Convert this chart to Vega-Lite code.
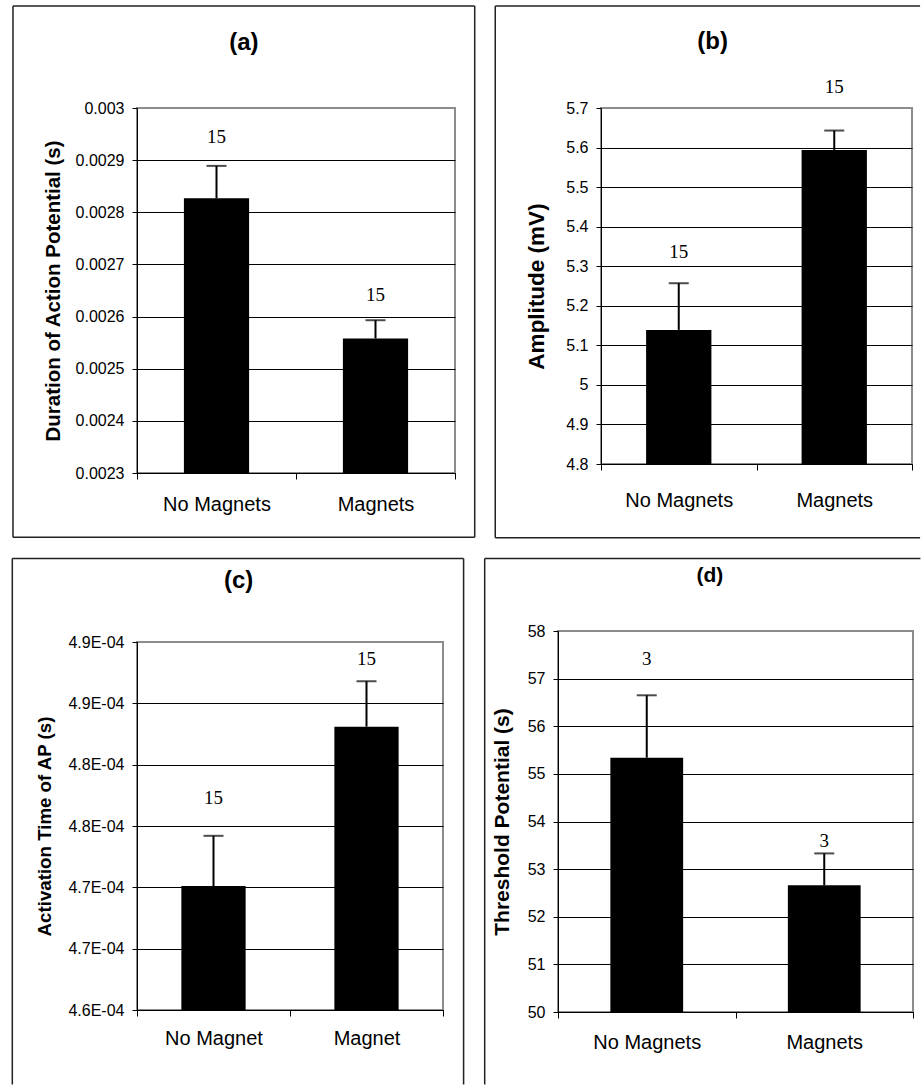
{
  "$schema": "https://vega.github.io/schema/vega-lite/v6.json",
  "background": "white",
  "padding": {"left": 10, "top": 4, "right": 0, "bottom": 0},
  "autosize": {"type": "pad"},
  "columns": 2,
  "align": "none",
  "bounds": "full",
  "spacing": {"row": 16, "column": 5},
  "config": {
    "font": "Liberation Sans",
    "view": {"stroke": "#8c8c8c", "strokeWidth": 2},
    "axis": {
      "labelFont": "Liberation Sans", "titleFont": "Liberation Sans",
      "labelColor": "black", "titleColor": "black", "titleFontWeight": "bold",
      "domainColor": "black", "domainWidth": 1, "tickColor": "black", "tickWidth": 1,
      "gridColor": "black", "gridWidth": 1, "labelOverlap": false
    },
    "axisY": {"labelFontSize": 16, "labelPadding": 8, "tickSize": 5, "grid": true},
    "axisX": {"labelFontSize": 20, "labelAngle": 0, "tickSize": 6, "grid": false, "tickBand": "extent", "title": null}
  },
  "datasets": {
    "bars": [
      {"panel": "a", "cond": "No Magnets", "mean": 0.002827, "upper": 0.002889, "n": 15},
      {"panel": "a", "cond": "Magnets", "mean": 0.002558, "upper": 0.002593, "n": 15},
      {"panel": "b", "cond": "No Magnets", "mean": 5.139, "upper": 5.257, "n": 15},
      {"panel": "b", "cond": "Magnets", "mean": 5.594, "upper": 5.643, "n": 15},
      {"panel": "c", "cond": "No Magnet", "mean": 0.0004701, "upper": 0.0004742, "n": 15},
      {"panel": "c", "cond": "Magnet", "mean": 0.0004831, "upper": 0.0004868, "n": 15},
      {"panel": "d", "cond": "No Magnets", "mean": 55.34, "upper": 56.65, "n": 3},
      {"panel": "d", "cond": "Magnets", "mean": 52.66, "upper": 53.33, "n": 3}
    ]
  },
  "concat": [
    {
      "width": 318, "height": 365,
      "resolve": {"scale": {"x": "independent", "y": "independent"}},
      "layer": [
        {
          "data": {"name": "bars"},
          "transform": [{"filter": "datum.panel === 'a'"}],
          "encoding": {"x": {"field": "cond", "type": "nominal", "sort": ["No Magnets", "Magnets"], "scale": {"paddingInner": 0, "paddingOuter": 0}, "axis": {"labelPadding": 15, "labelFontSize": 20}}},
          "layer": [
            {"mark": {"type": "bar", "color": "black", "width": {"band": 0.41}},
             "encoding": {"y": {"field": "mean", "type": "quantitative", "scale": {"domain": [0.0023, 0.003], "nice": false, "zero": false, "clamp": true},
               "axis": {"title": "Duration of Action Potential (s)", "titleFontSize": 20.5, "titlePadding": 12, "format": "~g", "labelFontSize": 16, "tickCount": 30,
                 "gridOpacity": {"condition": {"test": "datum.value >= 0.003", "value": 0}, "value": 1},
                 "values": [0.0023, 0.0024, 0.0025, 0.0026, 0.0027, 0.0028, 0.0029, 0.003]}}}},
            {"mark": {"type": "rule", "color": "black", "strokeWidth": 2},
             "encoding": {"y": {"field": "mean", "type": "quantitative", "scale": {"domain": [0.0023, 0.003], "nice": false, "zero": false, "clamp": true}}, "y2": {"field": "upper"}}},
            {"mark": {"type": "tick", "color": "black", "thickness": 2, "size": 20},
             "encoding": {"y": {"field": "upper", "type": "quantitative", "scale": {"domain": [0.0023, 0.003], "nice": false, "zero": false, "clamp": true}}}},
            {"transform": [{"filter": "datum.cond === 'No Magnets'"}],
             "mark": {"type": "text", "font": "Liberation Serif", "fontSize": 19, "baseline": "middle", "dy": -29},
             "encoding": {"y": {"field": "upper", "type": "quantitative", "scale": {"domain": [0.0023, 0.003], "nice": false, "zero": false, "clamp": true}}, "text": {"field": "n"}}},
            {"transform": [{"filter": "datum.cond === 'Magnets'"}],
             "mark": {"type": "text", "font": "Liberation Serif", "fontSize": 19, "baseline": "middle", "dy": -25},
             "encoding": {"y": {"field": "upper", "type": "quantitative", "scale": {"domain": [0.0023, 0.003], "nice": false, "zero": false, "clamp": true}}, "text": {"field": "n"}}}
          ]
        },
        {"data": {"values": [{}]}, "mark": {"type": "text", "fontSize": 24, "fontWeight": "bold", "baseline": "middle"},
         "encoding": {"x": {"datum": 0.336, "type": "quantitative", "scale": {"domain": [0, 1]}, "axis": null},
                      "y": {"datum": 1.178, "type": "quantitative", "scale": {"domain": [0, 1]}, "axis": null},
                      "text": {"value": "(a)"}}},
        {"data": {"values": [{}]}, "mark": {"type": "rule", "color": "#222", "strokeWidth": 1.5},
         "encoding": {"x": {"datum": -0.39, "type": "quantitative", "scale": {"domain": [0, 1]}, "axis": null}, "x2": {"datum": 1.062},
                      "y": {"datum": 1.2795, "type": "quantitative", "scale": {"domain": [0, 1]}, "axis": null}}},
        {"data": {"values": [{}]}, "mark": {"type": "rule", "color": "#222", "strokeWidth": 1.5},
         "encoding": {"x": {"datum": -0.39, "type": "quantitative", "scale": {"domain": [0, 1]}, "axis": null}, "x2": {"datum": 1.062},
                      "y": {"datum": -0.176, "type": "quantitative", "scale": {"domain": [0, 1]}, "axis": null}}},
        {"data": {"values": [{}]}, "mark": {"type": "rule", "color": "#222", "strokeWidth": 1.5},
         "encoding": {"x": {"datum": -0.39, "type": "quantitative", "scale": {"domain": [0, 1]}, "axis": null},
                      "y": {"datum": -0.176, "type": "quantitative", "scale": {"domain": [0, 1]}, "axis": null}, "y2": {"datum": 1.2795}}},
        {"data": {"values": [{}]}, "mark": {"type": "rule", "color": "#222", "strokeWidth": 1.5},
         "encoding": {"x": {"datum": 1.062, "type": "quantitative", "scale": {"domain": [0, 1]}, "axis": null},
                      "y": {"datum": -0.176, "type": "quantitative", "scale": {"domain": [0, 1]}, "axis": null}, "y2": {"datum": 1.2795}}}
      ]
    },
    {
      "width": 311, "height": 356,
      "resolve": {"scale": {"x": "independent", "y": "independent"}},
      "layer": [
        {
          "data": {"name": "bars"},
          "transform": [{"filter": "datum.panel === 'b'"}],
          "encoding": {"x": {"field": "cond", "type": "nominal", "sort": ["No Magnets", "Magnets"], "scale": {"paddingInner": 0, "paddingOuter": 0}, "axis": {"labelPadding": 20, "labelFontSize": 20}}},
          "layer": [
            {"mark": {"type": "bar", "color": "black", "width": {"band": 0.42}},
             "encoding": {"y": {"field": "mean", "type": "quantitative", "scale": {"domain": [4.8, 5.7], "nice": false, "zero": false, "clamp": true},
               "axis": {"title": "Amplitude (mV)", "titleFontSize": 22.5, "titlePadding": 17, "format": "~g", "labelFontSize": 16, "tickCount": 30,
                 "gridOpacity": {"condition": {"test": "datum.value >= 5.7", "value": 0}, "value": 1},
                 "values": [4.8, 4.9, 5, 5.1, 5.2, 5.3, 5.4, 5.5, 5.6, 5.7]}}}},
            {"mark": {"type": "rule", "color": "black", "strokeWidth": 2},
             "encoding": {"y": {"field": "mean", "type": "quantitative", "scale": {"domain": [4.8, 5.7], "nice": false, "zero": false, "clamp": true}}, "y2": {"field": "upper"}}},
            {"mark": {"type": "tick", "color": "black", "thickness": 2, "size": 20},
             "encoding": {"y": {"field": "upper", "type": "quantitative", "scale": {"domain": [4.8, 5.7], "nice": false, "zero": false, "clamp": true}}}},
            {"transform": [{"filter": "datum.cond === 'No Magnets'"}],
             "mark": {"type": "text", "font": "Liberation Serif", "fontSize": 19, "baseline": "middle", "dy": -31},
             "encoding": {"y": {"field": "upper", "type": "quantitative", "scale": {"domain": [4.8, 5.7], "nice": false, "zero": false, "clamp": true}}, "text": {"field": "n"}}},
            {"transform": [{"filter": "datum.cond === 'Magnets'"}],
             "mark": {"type": "text", "font": "Liberation Serif", "fontSize": 19, "baseline": "middle", "dy": -44},
             "encoding": {"y": {"field": "upper", "type": "quantitative", "scale": {"domain": [4.8, 5.7], "nice": false, "zero": false, "clamp": true}}, "text": {"field": "n"}}}
          ]
        },
        {"data": {"values": [{}]}, "mark": {"type": "text", "fontSize": 24, "fontWeight": "bold", "baseline": "middle"},
         "encoding": {"x": {"datum": 0.359, "type": "quantitative", "scale": {"domain": [0, 1]}, "axis": null},
                      "y": {"datum": 1.186, "type": "quantitative", "scale": {"domain": [0, 1]}, "axis": null},
                      "text": {"value": "(b)"}}},
        {"data": {"values": [{}]}, "mark": {"type": "rule", "color": "white", "strokeWidth": 1.5},
         "encoding": {"x": {"datum": -0.3752, "type": "quantitative", "scale": {"domain": [0, 1]}, "axis": null}, "x2": {"datum": -0.345},
                      "y": {"datum": 1.2865, "type": "quantitative", "scale": {"domain": [0, 1]}, "axis": null}}},
        {"data": {"values": [{}]}, "mark": {"type": "rule", "color": "#222", "strokeWidth": 1.5},
         "encoding": {"x": {"datum": -0.34, "type": "quantitative", "scale": {"domain": [0, 1]}, "axis": null}, "x2": {"datum": 1.026},
                      "y": {"datum": 1.2865, "type": "quantitative", "scale": {"domain": [0, 1]}, "axis": null}}},
        {"data": {"values": [{}]}, "mark": {"type": "rule", "color": "#222", "strokeWidth": 1.5},
         "encoding": {"x": {"datum": -0.34, "type": "quantitative", "scale": {"domain": [0, 1]}, "axis": null}, "x2": {"datum": 1.026},
                      "y": {"datum": -0.207, "type": "quantitative", "scale": {"domain": [0, 1]}, "axis": null}}},
        {"data": {"values": [{}]}, "mark": {"type": "rule", "color": "#222", "strokeWidth": 1.5},
         "encoding": {"x": {"datum": -0.34, "type": "quantitative", "scale": {"domain": [0, 1]}, "axis": null},
                      "y": {"datum": -0.207, "type": "quantitative", "scale": {"domain": [0, 1]}, "axis": null}, "y2": {"datum": 1.2865}}}
      ]
    },
    {
      "width": 306, "height": 368,
      "resolve": {"scale": {"x": "independent", "y": "independent"}},
      "layer": [
        {
          "data": {"name": "bars"},
          "transform": [{"filter": "datum.panel === 'c'"}],
          "encoding": {"x": {"field": "cond", "type": "nominal", "sort": ["No Magnet", "Magnet"], "scale": {"paddingInner": 0, "paddingOuter": 0}, "axis": {"labelPadding": 12, "labelFontSize": 20}}},
          "layer": [
            {"mark": {"type": "bar", "color": "black", "width": {"band": 0.42}},
             "encoding": {"y": {"field": "mean", "type": "quantitative", "scale": {"domain": [0.00046, 0.00049], "nice": false, "zero": false, "clamp": true},
               "axis": {"title": "Activation Time of AP (s)", "titleFontSize": 18.7, "titlePadding": 13, "labelFontSize": 16, "tickCount": 30,
                 "gridOpacity": {"condition": {"test": "datum.value >= 0.000489", "value": 0}, "value": 1},
                 "labelExpr": "format(datum.value * 10000 + 0.0001, '.1f') + 'E-04'",
                 "values": [0.00046, 0.000465, 0.00047, 0.000475, 0.00048, 0.000485, 0.00049]}}}},
            {"mark": {"type": "rule", "color": "black", "strokeWidth": 2},
             "encoding": {"y": {"field": "mean", "type": "quantitative", "scale": {"domain": [0.00046, 0.00049], "nice": false, "zero": false, "clamp": true}}, "y2": {"field": "upper"}}},
            {"mark": {"type": "tick", "color": "black", "thickness": 2, "size": 20},
             "encoding": {"y": {"field": "upper", "type": "quantitative", "scale": {"domain": [0.00046, 0.00049], "nice": false, "zero": false, "clamp": true}}}},
            {"transform": [{"filter": "datum.cond === 'No Magnet'"}],
             "mark": {"type": "text", "font": "Liberation Serif", "fontSize": 19, "baseline": "middle", "dy": -38},
             "encoding": {"y": {"field": "upper", "type": "quantitative", "scale": {"domain": [0.00046, 0.00049], "nice": false, "zero": false, "clamp": true}}, "text": {"field": "n"}}},
            {"transform": [{"filter": "datum.cond === 'Magnet'"}],
             "mark": {"type": "text", "font": "Liberation Serif", "fontSize": 19, "baseline": "middle", "dy": -22},
             "encoding": {"y": {"field": "upper", "type": "quantitative", "scale": {"domain": [0.00046, 0.00049], "nice": false, "zero": false, "clamp": true}}, "text": {"field": "n"}}}
          ]
        },
        {"data": {"values": [{}]}, "mark": {"type": "text", "fontSize": 24, "fontWeight": "bold", "baseline": "middle"},
         "encoding": {"x": {"datum": 0.332, "type": "quantitative", "scale": {"domain": [0, 1]}, "axis": null},
                      "y": {"datum": 1.166, "type": "quantitative", "scale": {"domain": [0, 1]}, "axis": null},
                      "text": {"value": "(c)"}}},
        {"data": {"values": [{}]}, "mark": {"type": "rule", "color": "#222", "strokeWidth": 1.5},
         "encoding": {"x": {"datum": -0.4075, "type": "quantitative", "scale": {"domain": [0, 1]}, "axis": null}, "x2": {"datum": 1.0673},
                      "y": {"datum": 1.227, "type": "quantitative", "scale": {"domain": [0, 1]}, "axis": null}}},
        {"data": {"values": [{}]}, "mark": {"type": "rule", "color": "#222", "strokeWidth": 1.5},
         "encoding": {"x": {"datum": -0.4075, "type": "quantitative", "scale": {"domain": [0, 1]}, "axis": null},
                      "y": {"datum": -0.2024, "type": "quantitative", "scale": {"domain": [0, 1]}, "axis": null}, "y2": {"datum": 1.227}}},
        {"data": {"values": [{}]}, "mark": {"type": "rule", "color": "#222", "strokeWidth": 1.5},
         "encoding": {"x": {"datum": 1.0673, "type": "quantitative", "scale": {"domain": [0, 1]}, "axis": null},
                      "y": {"datum": -0.2024, "type": "quantitative", "scale": {"domain": [0, 1]}, "axis": null}, "y2": {"datum": 1.227}}}
      ]
    },
    {
      "width": 355, "height": 381,
      "resolve": {"scale": {"x": "independent", "y": "independent"}},
      "layer": [
        {
          "data": {"name": "bars"},
          "transform": [{"filter": "datum.panel === 'd'"}],
          "encoding": {"x": {"field": "cond", "type": "nominal", "sort": ["No Magnets", "Magnets"], "scale": {"paddingInner": 0, "paddingOuter": 0}, "axis": {"labelPadding": 14, "labelFontSize": 20}}},
          "layer": [
            {"mark": {"type": "bar", "color": "black", "width": {"band": 0.41}},
             "encoding": {"y": {"field": "mean", "type": "quantitative", "scale": {"domain": [50, 58], "nice": false, "zero": false, "clamp": true},
               "axis": {"title": "Threshold Potential (s)", "titleFontSize": 21, "titlePadding": 15, "format": "d", "labelFontSize": 16, "tickCount": 30,
                 "gridOpacity": {"condition": {"test": "datum.value >= 58", "value": 0}, "value": 1},
                 "values": [50, 51, 52, 53, 54, 55, 56, 57, 58]}}}},
            {"mark": {"type": "rule", "color": "black", "strokeWidth": 2},
             "encoding": {"y": {"field": "mean", "type": "quantitative", "scale": {"domain": [50, 58], "nice": false, "zero": false, "clamp": true}}, "y2": {"field": "upper"}}},
            {"mark": {"type": "tick", "color": "black", "thickness": 2, "size": 20},
             "encoding": {"y": {"field": "upper", "type": "quantitative", "scale": {"domain": [50, 58], "nice": false, "zero": false, "clamp": true}}}},
            {"transform": [{"filter": "datum.cond === 'No Magnets'"}],
             "mark": {"type": "text", "font": "Liberation Serif", "fontSize": 19, "baseline": "middle", "dy": -36},
             "encoding": {"y": {"field": "upper", "type": "quantitative", "scale": {"domain": [50, 58], "nice": false, "zero": false, "clamp": true}}, "text": {"field": "n"}}},
            {"transform": [{"filter": "datum.cond === 'Magnets'"}],
             "mark": {"type": "text", "font": "Liberation Serif", "fontSize": 19, "baseline": "middle", "dy": -12},
             "encoding": {"y": {"field": "upper", "type": "quantitative", "scale": {"domain": [50, 58], "nice": false, "zero": false, "clamp": true}}, "text": {"field": "n"}}}
          ]
        },
        {"data": {"values": [{}]}, "mark": {"type": "text", "fontSize": 21, "fontWeight": "bold", "baseline": "middle"},
         "encoding": {"x": {"datum": 0.428, "type": "quantitative", "scale": {"domain": [0, 1]}, "axis": null},
                      "y": {"datum": 1.1445, "type": "quantitative", "scale": {"domain": [0, 1]}, "axis": null},
                      "text": {"value": "(d)"}}},
        {"data": {"values": [{}]}, "mark": {"type": "rule", "color": "#222", "strokeWidth": 1.5},
         "encoding": {"x": {"datum": -0.2065, "type": "quantitative", "scale": {"domain": [0, 1]}, "axis": null}, "x2": {"datum": 1.021},
                      "y": {"datum": 1.19, "type": "quantitative", "scale": {"domain": [0, 1]}, "axis": null}}},
        {"data": {"values": [{}]}, "mark": {"type": "rule", "color": "#222", "strokeWidth": 1.5},
         "encoding": {"x": {"datum": -0.2065, "type": "quantitative", "scale": {"domain": [0, 1]}, "axis": null},
                      "y": {"datum": -0.19, "type": "quantitative", "scale": {"domain": [0, 1]}, "axis": null}, "y2": {"datum": 1.19}}}
      ]
    }
  ]
}
